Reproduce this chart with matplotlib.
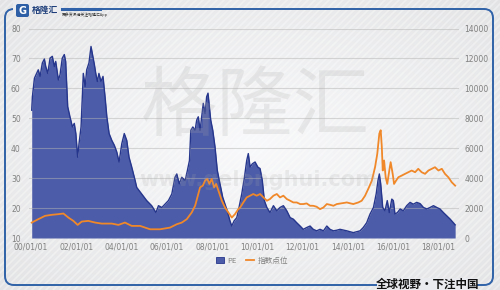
import numpy as np
import matplotlib
matplotlib.use("Agg")
import matplotlib.pyplot as plt
from matplotlib.patches import FancyBboxPatch, Rectangle, Patch
from matplotlib.lines import Line2D

plt.rcParams['font.family'] = ['DejaVu Sans', 'Noto Sans CJK SC']

# ---------------- data ----------------
pe_dates = [2000.03, 2000.06, 2000.15, 2000.25, 2000.32, 2000.40, 2000.50, 2000.59, 2000.65, 2000.74,
            2000.84, 2000.94, 2001.03, 2001.09, 2001.21, 2001.28, 2001.38, 2001.47, 2001.53, 2001.62,
            2001.72, 2001.83, 2001.91, 2001.98, 2002.06, 2002.12, 2002.21, 2002.31, 2002.39, 2002.46,
            2002.56, 2002.65, 2002.73, 2002.80, 2002.86, 2002.93, 2003.00, 2003.09, 2003.18, 2003.27,
            2003.35, 2003.45, 2003.57, 2003.68, 2003.79, 2003.89, 2004.01, 2004.12, 2004.23, 2004.33,
            2004.45, 2004.60, 2004.67, 2004.89, 2005.11, 2005.33, 2005.52, 2005.63, 2005.78, 2005.92,
            2006.07, 2006.22, 2006.36, 2006.44, 2006.55, 2006.66, 2006.81, 2006.91, 2007.00, 2007.06,
            2007.15, 2007.25, 2007.32, 2007.39, 2007.47, 2007.54, 2007.61, 2007.69, 2007.76, 2007.82,
            2007.88, 2007.94, 2008.03, 2008.13, 2008.23, 2008.35, 2008.47, 2008.57, 2008.67, 2008.79,
            2008.87, 2008.97, 2009.09, 2009.16, 2009.31, 2009.43, 2009.53, 2009.60, 2009.68, 2009.78,
            2009.90, 2010.02, 2010.12, 2010.22, 2010.31, 2010.42, 2010.56, 2010.71, 2010.86, 2011.00,
            2011.15, 2011.30, 2011.45, 2011.59, 2011.74, 2011.89, 2012.03, 2012.18, 2012.33, 2012.47,
            2012.62, 2012.77, 2012.92, 2013.07, 2013.21, 2013.36, 2013.51, 2013.65, 2013.95, 2014.24,
            2014.54, 2014.68, 2014.83, 2014.98, 2015.13, 2015.25, 2015.33, 2015.39, 2015.45, 2015.54,
            2015.64, 2015.74, 2015.83, 2015.94, 2016.01, 2016.08, 2016.19, 2016.31, 2016.45, 2016.60,
            2016.75, 2016.89, 2017.04, 2017.19, 2017.34, 2017.49, 2017.63, 2017.78, 2017.93, 2018.07,
            2018.22, 2018.37, 2018.52, 2018.66, 2018.74]
pe_values = [52.7, 57.2, 63.4, 65.0, 66.2, 64.0, 68.5, 69.8, 67.3, 65.0,
             70.1, 70.7, 67.3, 69.0, 62.8, 64.5, 70.1, 71.3, 69.0, 53.9,
             50.5, 47.1, 48.3, 44.9, 37.0, 41.5, 47.1, 65.0, 60.6, 66.2,
             68.5, 74.0, 70.7, 67.9, 65.0, 62.3, 65.0, 62.3, 64.0, 57.2,
             50.5, 44.9, 42.6, 41.0, 38.7, 35.4, 41.5, 44.9, 42.6, 37.0,
             33.7, 29.2, 26.9, 24.7, 22.5, 20.8, 18.5, 20.8, 20.2, 21.3,
             22.5, 24.7, 30.3, 31.4, 28.1, 30.3, 29.2, 32.6, 35.9, 46.0,
             47.1, 46.0, 49.4, 50.5, 46.0, 50.5, 55.0, 51.6, 57.2, 58.4,
             53.9, 49.4, 46.0, 40.4, 32.6, 28.1, 23.6, 21.3, 19.1, 15.7,
             14.0, 15.7, 16.8, 19.1, 24.7, 30.3, 35.9, 38.2, 33.7, 34.8,
             35.4, 33.7, 33.2, 29.2, 22.5, 20.2, 18.5, 20.8, 19.1, 20.2,
             20.8, 19.1, 16.8, 16.3, 15.1, 14.0, 12.9, 13.5, 14.0, 12.9,
             12.4, 12.9, 12.4, 14.0, 12.9, 12.4, 12.6, 12.9, 12.4, 11.8,
             12.4, 13.5, 15.1, 18.0, 20.2, 24.7, 29.2, 31.4, 28.1, 20.2,
             19.1, 22.5, 18.5, 23.0, 22.5, 18.0, 18.5, 19.7, 19.1, 20.8,
             21.9, 21.3, 21.9, 21.5, 20.2, 19.7, 20.2, 20.8, 20.2, 19.7,
             18.5, 17.4, 16.3, 15.1, 14.4]

idx_dates = [2000.03, 2000.32, 2000.62, 2000.91, 2001.21, 2001.43, 2001.65, 2001.87, 2002.06, 2002.24,
             2002.53, 2002.83, 2003.12, 2003.57, 2003.86, 2004.15, 2004.45, 2004.82, 2005.26, 2005.70,
             2006.14, 2006.44, 2006.66, 2006.88, 2007.10, 2007.25, 2007.39, 2007.47, 2007.59, 2007.69,
             2007.79, 2007.88, 2007.98, 2008.09, 2008.18, 2008.28, 2008.43, 2008.57, 2008.72, 2008.87,
             2009.01, 2009.16, 2009.24, 2009.38, 2009.53, 2009.68, 2009.82, 2009.97, 2010.12, 2010.27,
             2010.42, 2010.56, 2010.71, 2010.86, 2011.00, 2011.15, 2011.30, 2011.45, 2011.59, 2011.74,
             2011.89, 2012.03, 2012.18, 2012.33, 2012.47, 2012.62, 2012.77, 2012.92, 2013.07, 2013.21,
             2013.36, 2013.51, 2013.65, 2013.95, 2014.24, 2014.46, 2014.61, 2014.76, 2014.90, 2015.06,
             2015.20, 2015.30, 2015.39, 2015.45, 2015.50, 2015.54, 2015.60, 2015.67, 2015.74, 2015.83,
             2015.89, 2015.98, 2016.04, 2016.13, 2016.23, 2016.38, 2016.53, 2016.67, 2016.82, 2016.97,
             2017.11, 2017.26, 2017.41, 2017.56, 2017.71, 2017.85, 2018.00, 2018.15, 2018.29, 2018.44,
             2018.59, 2018.74]
idx_values = [1030, 1256, 1480, 1548, 1593, 1636, 1367, 1144, 875, 1099,
              1144, 1032, 964, 964, 875, 1032, 808, 808, 583, 583,
              695, 920, 1030, 1256, 1705, 2154, 2940, 3385, 3500, 3837,
              3950, 3614, 3950, 3385, 3614, 3164, 2490, 2040, 1705, 1367,
              1593, 1930, 2040, 2376, 2712, 2827, 2940, 2827, 2940, 2712,
              2490, 2605, 2827, 2940, 2712, 2827, 2605, 2490, 2376, 2376,
              2268, 2268, 2310, 2154, 2154, 2087, 1930, 2040, 2268, 2221,
              2154, 2268, 2300, 2376, 2268, 2376, 2490, 2827, 3278, 3837,
              4732, 5634, 6980, 7202, 6078, 4510, 5183, 4059, 3614, 4510,
              5069, 4288, 3614, 3837, 4059, 4173, 4288, 4395, 4510, 4395,
              4624, 4395, 4288, 4510, 4624, 4732, 4510, 4624, 4288, 4059,
              3725, 3500]

x_ticks = [2000, 2002, 2004, 2006, 2008, 2010, 2012, 2014, 2016, 2018]
x_tick_labels = ['00/01/01', '02/01/01', '04/01/01', '06/01/01', '08/01/01',
                 '10/01/01', '12/01/01', '14/01/01', '16/01/01', '18/01/01']
left_ticks = [10, 20, 30, 40, 50, 60, 70, 80]
right_ticks = [0, 2000, 4000, 6000, 8000, 10000, 12000, 14000]
legend_labels = ['PE', '指数点位']

# ---------------- figure ----------------
W, H = 500, 290
fig = plt.figure(figsize=(W / 100, H / 100), dpi=100)
CJK = ['Noto Sans CJK SC', 'DejaVu Sans']

# background / decoration axes in pixel coordinates
bg = fig.add_axes([0, 0, 1, 1], zorder=0)
bg.set_xlim(0, W)
bg.set_ylim(H, 0)
bg.axis('off')
yy, xx = np.mgrid[0:H, 0:W]
d = np.sqrt(((xx - W / 2) / (W / 2)) ** 2 + ((yy - H / 2) / (H / 2)) ** 2)
grad = 0.975 - 0.06 * np.clip(d, 0, 1.4)
bg.imshow(np.dstack([grad, grad * 1.002, grad * 1.008]).clip(0, 1), extent=[0, W, H, 0],
          aspect='auto', zorder=0)
for s in range(-H, W, 7):
    bg.plot([s, s + H], [H, 0], color='white', lw=1.2, alpha=0.35, zorder=1)

frame_col = '#2f62a8'
frame = FancyBboxPatch((5, 9), 488, 276, boxstyle='round,pad=0,rounding_size=9',
                       fill=False, ec=frame_col, lw=1.4, zorder=2)
bg.add_patch(frame)
bgc = '#e9ebee'
bg.add_patch(Rectangle((13, 0), 48, 12, color=bgc, zorder=3, lw=0))
bg.add_patch(Rectangle((377, 278), 100, 12, color=bgc, zorder=3, lw=0))
bg.plot([62, 100], [9, 9], color=frame_col, lw=2.2, zorder=4)

# logo
bg.add_patch(FancyBboxPatch((16, 4), 13, 13, boxstyle='round,pad=0,rounding_size=2',
                            fc='#2d5fa6', ec='none', zorder=5))
bg.text(22.5, 10.8, 'G', color='white', fontsize=7, fontweight='bold', ha='center', va='center', zorder=6)
bg.text(32, 10.5, '格隆汇', color='#1d3d7a', fontsize=6.3, fontweight='bold', ha='left', va='center',
        family=CJK, zorder=6)
bg.text(62, 14.5, '更多资讯请关注格隆汇App', color='#333333', fontsize=2.8, ha='left', va='center',
        family=CJK, zorder=6)
bg.text(428, 284, '全球视野・下注中国', color='#111111', fontsize=8.3, fontweight='bold',
        ha='center', va='center', family=CJK, zorder=6)

# main chart
left_px, right_px, top_px, bot_px = 29, 459, 28.5, 238
pos = [left_px / W, 1 - bot_px / H, (right_px - left_px) / W, (bot_px - top_px) / H]
ax = fig.add_axes(pos, zorder=2)
ax.patch.set_alpha(0)
ax.set_xlim(1999.91, 2018.91)
ax.set_ylim(10, 80)

fill_col = '#4c5ca8'
edge_col = '#26368c'
ax.fill_between(pe_dates, 10, pe_values, color=fill_col, lw=0, zorder=2)
ax.plot(pe_dates, pe_values, color=edge_col, lw=1.0, zorder=3)

ax.set_yticks(left_ticks)
ax.set_xticks(x_ticks)
ax.set_xticklabels(x_tick_labels)
ax.grid(axis='y', color='#b5b5b5', alpha=0.5, lw=0.8, zorder=4)
ax.set_axisbelow(False)
for sp in ax.spines.values():
    sp.set_visible(False)
ax.tick_params(axis='both', length=0, labelsize=5.5, labelcolor='#808080')
ax.tick_params(axis='y', pad=6)
ax.tick_params(axis='x', pad=3)

ax2 = ax.twinx()
ax2.patch.set_alpha(0)
ax2.set_ylim(0, 14000)
ax2.set_yticks(right_ticks)
ax2.plot(idx_dates, idx_values, color='#f0882a', lw=1.3)
for sp in ax2.spines.values():
    sp.set_visible(False)
ax2.tick_params(axis='y', length=0, labelsize=5.5, labelcolor='#808080', pad=4)

# watermark
wm = fig.add_axes([0, 0, 1, 1], zorder=5)
wm.set_xlim(0, W)
wm.set_ylim(H, 0)
wm.axis('off')
wm.text(255, 108, '格隆汇', fontsize=55, color='#a8a8a8', alpha=0.2, ha='center', va='center',
        family=CJK)
wm.text(258, 180, 'www.gelonghui.com', fontsize=15, fontweight='bold', color='#a8a8a8', alpha=0.18,
        ha='center', va='center')

# legend
handles = [Patch(facecolor=fill_col, edgecolor=edge_col, lw=0.6),
           Line2D([0], [0], color='#f0882a', lw=1.3)]
leg = fig.legend(handles, legend_labels, loc='center', bbox_to_anchor=(252 / W, 1 - 261 / H),
                 ncol=2, frameon=False, handlelength=1.0, handleheight=0.8,
                 columnspacing=1.2, handletextpad=0.5, prop={'family': CJK, 'size': 5.5})
for t in leg.get_texts():
    t.set_color('#808080')

fig.savefig('out.png', dpi=100)
